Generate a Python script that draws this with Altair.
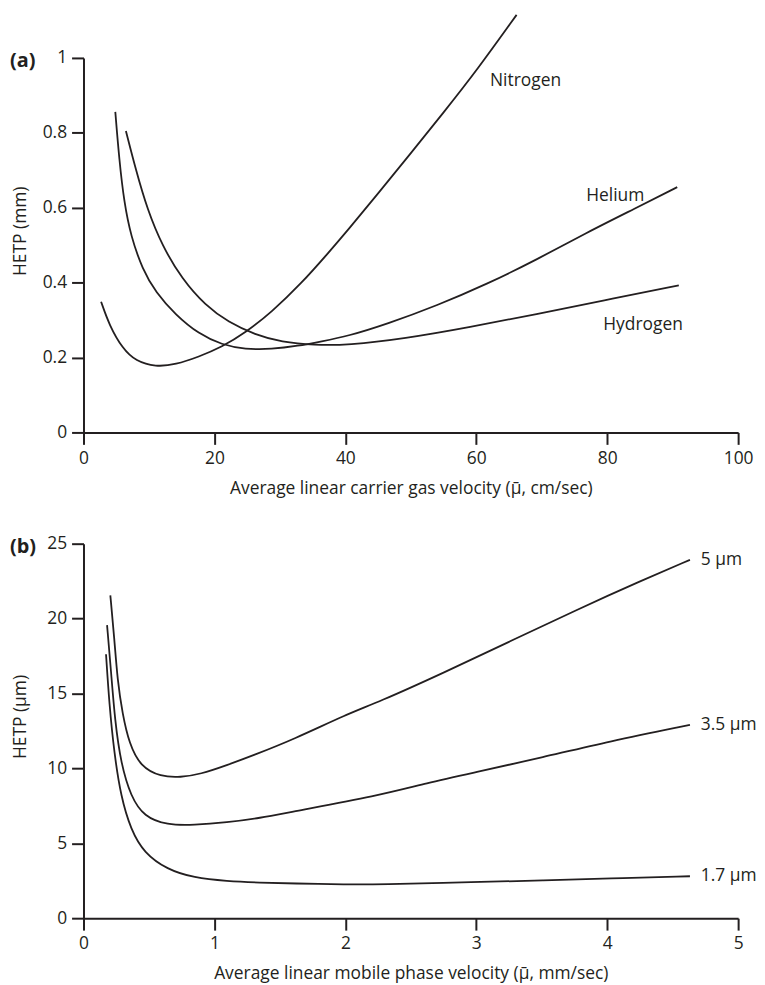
import altair as alt
import pandas as pd

# ---------------- Panel (a): gas chromatography ----------------
nitrogen_x = [2.69, 3.95, 5.96, 8.0, 11.03, 14.07, 17.6, 21.14, 24.69, 28.73, 33.28, 37.33, 40.36, 44.92, 49.97, 55.04, 60.09, 66.16]
nitrogen_y = [0.349, 0.286, 0.224, 0.190, 0.175, 0.181, 0.202, 0.228, 0.266, 0.321, 0.398, 0.478, 0.540, 0.636, 0.745, 0.855, 0.967, 1.115]

helium_x = [4.86, 5.46, 6.22, 7.24, 9.0, 11.03, 14.07, 17.6, 21.14, 24.69, 28.73, 32.78, 36.31, 40.36, 46.43, 54.02, 61.61, 69.2, 76.78, 84.37, 90.7]
helium_y = [0.856, 0.728, 0.613, 0.524, 0.436, 0.374, 0.314, 0.263, 0.234, 0.222, 0.222, 0.231, 0.243, 0.257, 0.290, 0.339, 0.396, 0.461, 0.533, 0.599, 0.655]

hydrogen_x = [6.48, 8.0, 9.76, 12.03, 15.07, 18.62, 22.15, 26.21, 30.24, 35.31, 40.36, 48.97, 59.07, 69.2, 79.32, 90.94]
hydrogen_y = [0.805, 0.701, 0.595, 0.498, 0.409, 0.339, 0.294, 0.261, 0.241, 0.233, 0.233, 0.250, 0.281, 0.316, 0.352, 0.393]

gas_names = ["Nitrogen", "Helium", "Hydrogen"]
gas_label_x = [62.1, 76.8, 79.4]
gas_label_y = [0.939, 0.631, 0.286]

# ---------------- Panel (b): liquid chromatography ----------------
p5_x = [0.205, 0.235, 0.26, 0.298, 0.349, 0.437, 0.589, 0.741, 0.892, 1.094, 1.296, 1.6, 2.017, 2.244, 2.75, 3.255, 3.76, 4.266, 4.632]
p5_y = [21.55, 18.72, 15.85, 13.64, 11.65, 10.10, 9.44, 9.40, 9.61, 10.21, 10.87, 11.92, 13.64, 14.39, 16.38, 18.47, 20.56, 22.55, 23.92]

p35_x = [0.18, 0.21, 0.24, 0.286, 0.362, 0.462, 0.639, 0.842, 1.094, 1.347, 1.6, 2.244, 2.623, 3.002, 3.508, 4.013, 4.632]
p35_y = [19.56, 16.51, 13.20, 10.32, 8.11, 6.78, 6.21, 6.21, 6.39, 6.68, 7.12, 8.16, 9.02, 9.75, 10.74, 11.80, 12.91]

p17_x = [0.172, 0.197, 0.235, 0.286, 0.362, 0.462, 0.639, 0.842, 1.094, 1.347, 1.6, 2.017, 2.244, 3.002, 3.508, 4.013, 4.632]
p17_y = [17.62, 14.30, 10.99, 8.11, 5.90, 4.36, 3.25, 2.70, 2.47, 2.37, 2.32, 2.25, 2.25, 2.41, 2.52, 2.65, 2.80]

particle_names = ["5 \u00b5m", "3.5 \u00b5m", "1.7 \u00b5m"]

x_ticks_a = [0, 20, 40, 60, 80, 100]
y_ticks_a = [0, 0.2, 0.4, 0.6, 0.8, 1]
x_ticks_b = [0, 1, 2, 3, 4, 5]
y_ticks_b = [0, 5, 10, 15, 20, 25]

FONT = "Open Sans"
INK = "#231f20"
FS = 17.5


def long_df(names, xs, ys):
    rows = []
    for n, xv, yv in zip(names, xs, ys):
        for i, (a, b) in enumerate(zip(xv, yv)):
            rows.append({"series": n, "v": a, "h": b, "i": i})
    return pd.DataFrame(rows)


df_a = long_df(gas_names, [nitrogen_x, helium_x, hydrogen_x], [nitrogen_y, helium_y, hydrogen_y])
lab_a = pd.DataFrame({"series": gas_names, "v": gas_label_x, "h": gas_label_y})

df_b = long_df(particle_names, [p5_x, p35_x, p17_x], [p5_y, p35_y, p17_y])
lab_b = pd.DataFrame({
    "series": particle_names,
    "v": [p5_x[-1], p35_x[-1], p17_x[-1]],
    "h": [p5_y[-1], p35_y[-1], p17_y[-1]],
})


def panel(df, lab, letter, xdom, ydom, xticks, yticks, xfmt, yfmt, xtitle, ytitle, label_dx):
    xs = alt.Scale(domain=xdom, nice=False, zero=False)
    ys = alt.Scale(domain=ydom, nice=False, zero=False)
    xax = alt.Axis(values=xticks, title=xtitle, format=xfmt, titleY=56, titleBaseline="middle")
    yax = alt.Axis(values=yticks, title=ytitle, format=yfmt, titleX=-63, titleY=174,
                   titleBaseline="middle")
    lines = alt.Chart(df).mark_line(color=INK, strokeWidth=1.8, interpolate="basis").encode(
        x=alt.X("v:Q", scale=xs, axis=xax),
        y=alt.Y("h:Q", scale=ys, axis=yax),
        detail="series:N",
        order="i:Q",
    )
    labels = alt.Chart(lab).mark_text(align="left", baseline="middle", font=FONT, fontSize=FS,
                                      color=INK, dx=label_dx).encode(
        x=alt.X("v:Q", scale=xs), y=alt.Y("h:Q", scale=ys), text="series:N")
    let = alt.Chart(pd.DataFrame({"t": [letter]})).mark_text(
        align="left", baseline="middle", font=FONT, fontSize=20, fontWeight="bold", color=INK
    ).encode(x=alt.value(-74), y=alt.value(3), text="t:N")
    return alt.layer(lines, labels, let).properties(width=659, height=377)


pa = panel(df_a, lab_a, "(a)", [0, 100], [0, 1], x_ticks_a, y_ticks_a, "d", "~g",
           "Average linear carrier gas velocity (\u03bc\u0304, cm/sec)", "HETP (mm)", 0)
pb = panel(df_b, lab_b, "(b)", [0, 5], [0, 25], x_ticks_b, y_ticks_b, "d", "d",
           "Average linear mobile phase velocity (\u03bc\u0304, mm/sec)", "HETP (\u00b5m)", 11)

chart = alt.vconcat(pa, pb, spacing=38).properties(
    padding={"left": 2, "top": 0, "right": 0, "bottom": 0}
).configure_view(stroke=None).configure_axis(
    grid=False, labelFlush=False,
    domainColor=INK, domainWidth=2,
    tickColor=INK, tickWidth=2, tickSize=12,
    labelFont=FONT, labelFontSize=FS, labelColor=INK, labelPadding=5,
    titleFont=FONT, titleFontSize=FS, titleColor=INK, titleFontWeight="normal",
)

chart.save("out.html", embed_options={"renderer": "svg", "actions": False})
